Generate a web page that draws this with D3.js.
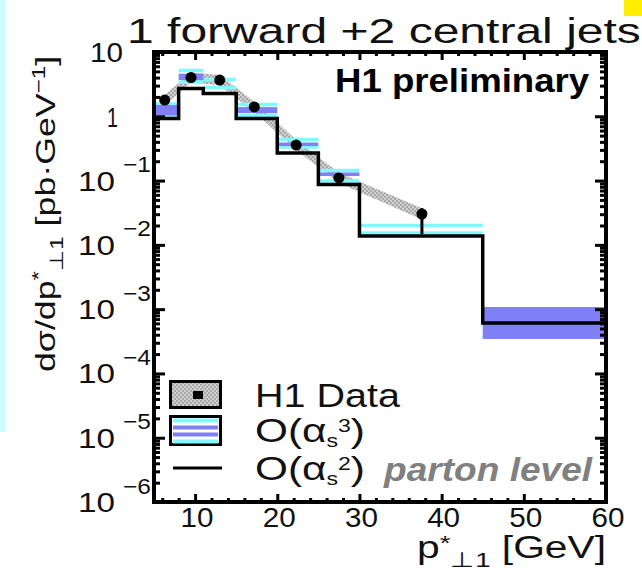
<!DOCTYPE html>
<html>
<head>
<meta charset="utf-8">
<script src="https://cdn.jsdelivr.net/npm/d3@7"></script>
<style>
  body { margin: 0; background: #fff; }
  svg { display: block; }
</style>
</head>
<body>
<svg id="chart" width="642" height="573"></svg>
<script>
// ---- data -------------------------------------------------------------
const binEdges = [5, 8, 11, 15, 20, 25, 30, 45, 60];          // p*_T1 bins [GeV]
// O(alpha_s^2) parton level prediction per bin [pb/GeV]
const lo2 = [0.92, 2.70, 2.26, 0.92, 0.268, 0.0869, 0.01374, 6.09e-4];
// O(alpha_s^3) prediction band per bin: outer (cyan) and inner (blue) limits
const nloOuterHi = [1.55, 5.15, 3.73, 1.53, 0.435, 0.1435, 0.0200, 1.00e-3];
const nloInnerHi = [1.50, 4.60, 3.20, 1.39, 0.391, 0.1336, 0.01766, 1.08e-3];
const nloInnerLo = [1.03, 3.66, 3.20, 1.12, 0.345, 0.1178, 0.01766, 3.44e-4];
const nloOuterLo = [1.01, 3.41, 2.80, 1.03, 0.333, 0.0984, 0.0153, 3.70e-4];
// H1 data points
const dataX = [6.3, 9.5, 13.0, 17.2, 22.3, 27.5, 37.6];
const dataY = [1.79, 4.01, 3.66, 1.40, 0.357, 0.110, 0.0302];
const dataErrUp = [0.10, 0.20, 0.18, 0.07, 0.02, 0.007, 0.007];
const dataErrDn = [0.10, 0.20, 0.18, 0.07, 0.02, 0.007, 0.0155];
// correlated systematic band around the data
const dataSysHi = [2.15, 4.80, 4.40, 1.68, 0.430, 0.132, 0.0370];
const dataSysLo = [1.49, 3.34, 3.05, 1.17, 0.298, 0.092, 0.0248];
// axis ticks
const yTickExps = [1, 0, -1, -2, -3, -4, -5, -6];
const xTickValues = [10, 20, 30, 40, 50, 60];
const xMinorValues = [6, 8, 12, 14, 16, 18, 22, 24, 26, 28, 32, 34, 36, 38, 42, 44, 46, 48, 52, 54, 56, 58];

// ---- setup ------------------------------------------------------------
const FONT = "'Liberation Sans', Arial, Helvetica, sans-serif";
const CYAN = "#7ff9fc";
const BLUE = "#8080f6";
const svg = d3.select("#chart");

const L = 154, R = 606, T = 52, B = 502;
const x = d3.scaleLinear().domain([5, 60]).range([L, R]);
const y = d3.scaleLog().domain([1e-6, 10]).range([B, T]);

// page decorations
svg.append("rect").attr("x", 0).attr("y", 0).attr("width", 642).attr("height", 573).attr("fill", "#fff");
svg.append("rect").attr("x", 0).attr("y", 0).attr("width", 5).attr("height", 432).attr("fill", "#ccffff");
svg.append("rect").attr("x", 624).attr("y", 0).attr("width", 18).attr("height", 16).attr("fill", "#ffee00");

// checker fill for the data systematic band
const defs = svg.append("defs");
const pat = defs.append("pattern").attr("id", "sysfill").attr("width", 4).attr("height", 4)
  .attr("patternUnits", "userSpaceOnUse");
pat.append("rect").attr("width", 4).attr("height", 4).attr("fill", "#d0d0d0");
pat.append("rect").attr("width", 2).attr("height", 2).attr("fill", "#a8a8a8");
pat.append("rect").attr("x", 2).attr("y", 2).attr("width", 2).attr("height", 2).attr("fill", "#a8a8a8");

// text helper: builds a text with super/subscripts and stretches it to a width
function richText(parent, segs, o) {
  const g = parent.append("g");
  const t = g.append("text")
    .attr("font-family", FONT)
    .attr("font-size", o.size)
    .attr("font-weight", o.weight || "normal")
    .attr("font-style", o.style || "normal")
    .attr("fill", o.fill || "#111");
  const supShift = o.supShift !== undefined ? o.supShift : o.size * 0.42;
  const subShift = o.subShift !== undefined ? o.subShift : o.size * 0.32;
  const scriptSize = o.scriptSize || o.size * 0.72;
  let shift = 0;
  segs.forEach(s => {
    const target = s.sup ? -supShift : s.sub ? subShift : 0;
    const ts = t.append("tspan").text(s.t).attr("dy", target - shift);
    if (s.sup || s.sub) ts.attr("font-size", scriptSize);
    shift = target;
  });
  const bb = t.node().getBBox();
  const sx = o.width ? o.width / bb.width : 1;
  const rot = o.rotate ? ` rotate(${o.rotate})` : "";
  g.attr("transform", `translate(${o.x},${o.y})${rot} scale(${sx},1) translate(${-bb.x},0)`);
  return g;
}

// ---- plot contents ----------------------------------------------------
const plot = svg.append("g");
plot.append("clipPath").attr("id", "clip").append("rect")
  .attr("x", L).attr("y", T).attr("width", R - L).attr("height", B - T);
const inner = plot.append("g").attr("clip-path", "url(#clip)");

// data systematic band
const sysArea = d3.area()
  .x((d, i) => x(dataX[i]))
  .y0((d, i) => y(dataSysLo[i]))
  .y1((d, i) => y(dataSysHi[i]));
inner.append("path").datum(dataX).attr("d", sysArea).attr("fill", "url(#sysfill)");

// O(alpha_s^3) band: cyan edges, blue core
const bins = lo2.map((v, i) => ({ x0: binEdges[i], x1: binEdges[i + 1], i }));
inner.selectAll("line.nloHi").data(bins).join("line")
  .attr("x1", d => x(d.x0)).attr("x2", d => x(d.x1))
  .attr("y1", d => y(nloOuterHi[d.i])).attr("y2", d => y(nloOuterHi[d.i]))
  .attr("stroke", CYAN).attr("stroke-width", 3.5);
inner.selectAll("line.nloLo").data(bins).join("line")
  .attr("x1", d => x(d.x0)).attr("x2", d => x(d.x1))
  .attr("y1", d => y(nloOuterLo[d.i])).attr("y2", d => y(nloOuterLo[d.i]))
  .attr("stroke", CYAN).attr("stroke-width", 3.5);
inner.selectAll("rect.nloCore").data(bins).join("rect")
  .attr("x", d => x(d.x0)).attr("width", d => x(d.x1) - x(d.x0))
  .attr("y", d => y(nloInnerHi[d.i]))
  .attr("height", d => y(nloInnerLo[d.i]) - y(nloInnerHi[d.i]))
  .attr("fill", BLUE);

// O(alpha_s^2) histogram
const stepPts = lo2.map((v, i) => [binEdges[i], v]).concat([[binEdges[binEdges.length - 1], lo2[lo2.length - 1]]]);
inner.append("path")
  .attr("d", d3.line().x(d => x(d[0])).y(d => y(d[1])).curve(d3.curveStepAfter)(stepPts))
  .attr("fill", "none").attr("stroke", "#000").attr("stroke-width", 3.5);

// data points with error bars
inner.selectAll("line.err").data(dataX).join("line")
  .attr("x1", d => x(d)).attr("x2", d => x(d))
  .attr("y1", (d, i) => y(dataY[i] + dataErrUp[i]))
  .attr("y2", (d, i) => y(dataY[i] - dataErrDn[i]))
  .attr("stroke", "#000").attr("stroke-width", 3);
inner.selectAll("circle.pt").data(dataX).join("circle")
  .attr("cx", d => x(d)).attr("cy", (d, i) => y(dataY[i]))
  .attr("r", 5.5).attr("fill", "#000");

// ---- frame and ticks --------------------------------------------------
const yMajor = yTickExps.map(e => Math.pow(10, e));
const yMinor = [];
for (let e = -6; e <= 0; e++) for (let m = 2; m <= 9; m++) yMinor.push(m * Math.pow(10, e));

function tickGroup(axis, tx, ty) {
  const g = plot.append("g").attr("transform", `translate(${tx},${ty})`).call(axis);
  g.select(".domain").remove();
  g.selectAll("line").attr("stroke", "#000").attr("stroke-width", 3);
  g.selectAll("text").remove();
  return g;
}
tickGroup(d3.axisRight(y).tickValues(yMajor).tickSize(11), L, 0);
tickGroup(d3.axisRight(y).tickValues(yMinor).tickSize(6), L, 0);
tickGroup(d3.axisLeft(y).tickValues(yMajor).tickSize(11), R, 0);
tickGroup(d3.axisLeft(y).tickValues(yMinor).tickSize(6), R, 0);
tickGroup(d3.axisTop(x).tickValues(xTickValues).tickSize(8), 0, B);
tickGroup(d3.axisTop(x).tickValues(xMinorValues).tickSize(4), 0, B);
tickGroup(d3.axisBottom(x).tickValues(xTickValues).tickSize(8), 0, T);
tickGroup(d3.axisBottom(x).tickValues(xMinorValues).tickSize(4), 0, T);

plot.append("rect").attr("x", L).attr("y", T).attr("width", R - L).attr("height", B - T)
  .attr("fill", "none").attr("stroke", "#000").attr("stroke-width", 4);

// ---- tick labels ------------------------------------------------------
yTickExps.forEach(e => {
  const ty = y(Math.pow(10, e));
  if (e === 0) {
    richText(svg, [{ t: "1" }], { size: 28, x: 107, y: ty + 10.5, width: 11 });
  } else if (e === 1) {
    richText(svg, [{ t: "10" }], { size: 28, x: 90, y: ty + 10, width: 33 });
  } else {
    richText(svg, [{ t: "10" }], { size: 28, x: 78, y: ty + 10, width: 37 });
    richText(svg, [{ t: "\u2212" + (-e) }], { size: 22, x: 123, y: ty - 8.5, width: 28 });
  }
});
xTickValues.forEach(v => {
  richText(svg, [{ t: String(v) }], { size: 28, x: x(v) + 2 - 16.5, y: 527, width: 33 });
});

// ---- titles -----------------------------------------------------------
richText(svg, [{ t: "1 forward +2 central jets" }], { size: 36, x: 127, y: 43, width: 514 });
richText(svg, [{ t: "H1 preliminary" }], { size: 33, weight: "bold", fill: "#000", x: 335, y: 92, width: 255 });
richText(svg, [{ t: "p" }, { t: "*", sup: true }, { t: "\u22a51", sub: true }, { t: " [GeV]" }],
  { size: 31, supShift: 8, subShift: 9, scriptSize: 21, x: 417, y: 558, width: 188 });
richText(svg, [{ t: "d\u03c3/dp" }, { t: "*", sup: true }, { t: "\u22a51", sub: true }, { t: " [pb\u00b7GeV" },
  { t: "\u22121", sup: true }, { t: "]" }],
  { size: 28, supShift: 10, subShift: 8, scriptSize: 19, x: 55, y: 372, width: 317, rotate: -90 });

// ---- legend -----------------------------------------------------------
const leg = svg.append("g");
leg.append("rect").attr("x", 170.5).attr("y", 381.5).attr("width", 50).attr("height", 26)
  .attr("fill", "url(#sysfill)").attr("stroke", "#000").attr("stroke-width", 3);
leg.append("rect").attr("x", 193).attr("y", 391).attr("width", 10).attr("height", 8).attr("fill", "#000");

leg.append("rect").attr("x", 170.5).attr("y", 416.5).attr("width", 50).attr("height", 28)
  .attr("fill", "#fff").attr("stroke", "#000").attr("stroke-width", 3);
[[CYAN, 418.5], [BLUE, 425.5], [BLUE, 432.5], [CYAN, 439.5]].forEach(([c, yy]) => {
  leg.append("rect").attr("x", 173).attr("y", yy).attr("width", 45).attr("height", 4).attr("fill", c);
});
leg.append("line").attr("x1", 173).attr("x2", 222).attr("y1", 468).attr("y2", 468)
  .attr("stroke", "#000").attr("stroke-width", 3);

richText(svg, [{ t: "H1 Data" }], { size: 34, x: 255, y: 407, width: 145 });
richText(svg, [{ t: "O(\u03b1" }, { t: "s", sub: true }, { t: "3", sup: true }, { t: ")" }],
  { size: 33, supShift: 10, subShift: 5, scriptSize: 18, x: 255, y: 442, width: 110 });
richText(svg, [{ t: "O(\u03b1" }, { t: "s", sub: true }, { t: "2", sup: true }, { t: ")" }],
  { size: 33, supShift: 10, subShift: 5, scriptSize: 18, x: 255, y: 480, width: 110 });
richText(svg, [{ t: "parton level" }], { size: 33, weight: "bold", style: "italic", fill: "#808080", x: 383, y: 481, width: 210 });
</script>
</body>
</html>
